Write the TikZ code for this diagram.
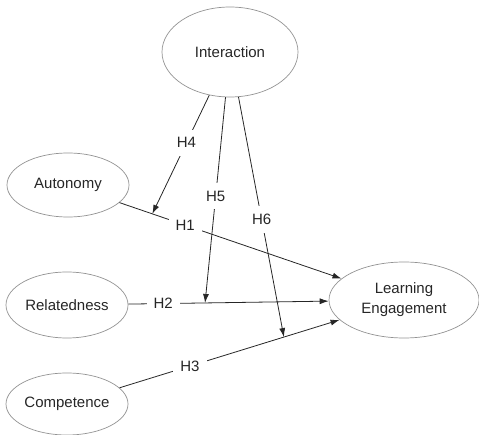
\documentclass[tikz,border=0pt]{standalone}
\usepackage{fontspec}
\setmainfont{Liberation Sans}
\usetikzlibrary{arrows.meta, shapes.geometric}

\begin{document}
\begin{tikzpicture}[x=1pt, y=-1pt,
            c/.style={ellipse, draw=gray!85, line width=0.7pt, inner sep=0pt,
                      align=center, text=black!85,
                      font=\fontsize{15}{20}\selectfont},
            h/.style={fill=white, inner xsep=7pt, inner ysep=8pt, text=black!85,
                      font=\fontsize{15}{18}\selectfont},
            arr/.style={-{Latex[length=9pt, width=6pt]}, line width=0.8pt, black!85}]
          \useasboundingbox (0,0) rectangle (479,435);
          \node[c, minimum width=136pt, minimum height=90pt] (int) at (230,52) {Interaction};
          \node[c, minimum width=122pt, minimum height=64pt] (aut) at (68,185) {Autonomy};
          \node[c, minimum width=122pt, minimum height=66pt] (rel) at (67,305) {Relatedness};
          \node[c, minimum width=122pt, minimum height=62pt] (com) at (67,404) {Competence};
          \node[c, minimum width=150pt, minimum height=76pt] (le) at (404,300) {Learning\\ Engagement};
          \draw[arr] (aut) -- node[h, pos=0.296] {H1} coordinate[pos=0.148] (t1) (le);
          \draw[arr] (rel) -- node[h, pos=0.174] {H2} coordinate[pos=0.383] (t2) (le);
          \draw[arr] (com) -- node[h, pos=0.32] {H3} coordinate[pos=0.747] (t3) (le);
          \draw[arr] (int) -- node[h, pos=0.40] {H4} (t1);
          \draw[arr] (int) -- node[h, pos=0.48] {H5} (t2);
          \draw[arr] (int) -- node[h, pos=0.51] {H6} (t3);
        \end{tikzpicture}
\end{document}
